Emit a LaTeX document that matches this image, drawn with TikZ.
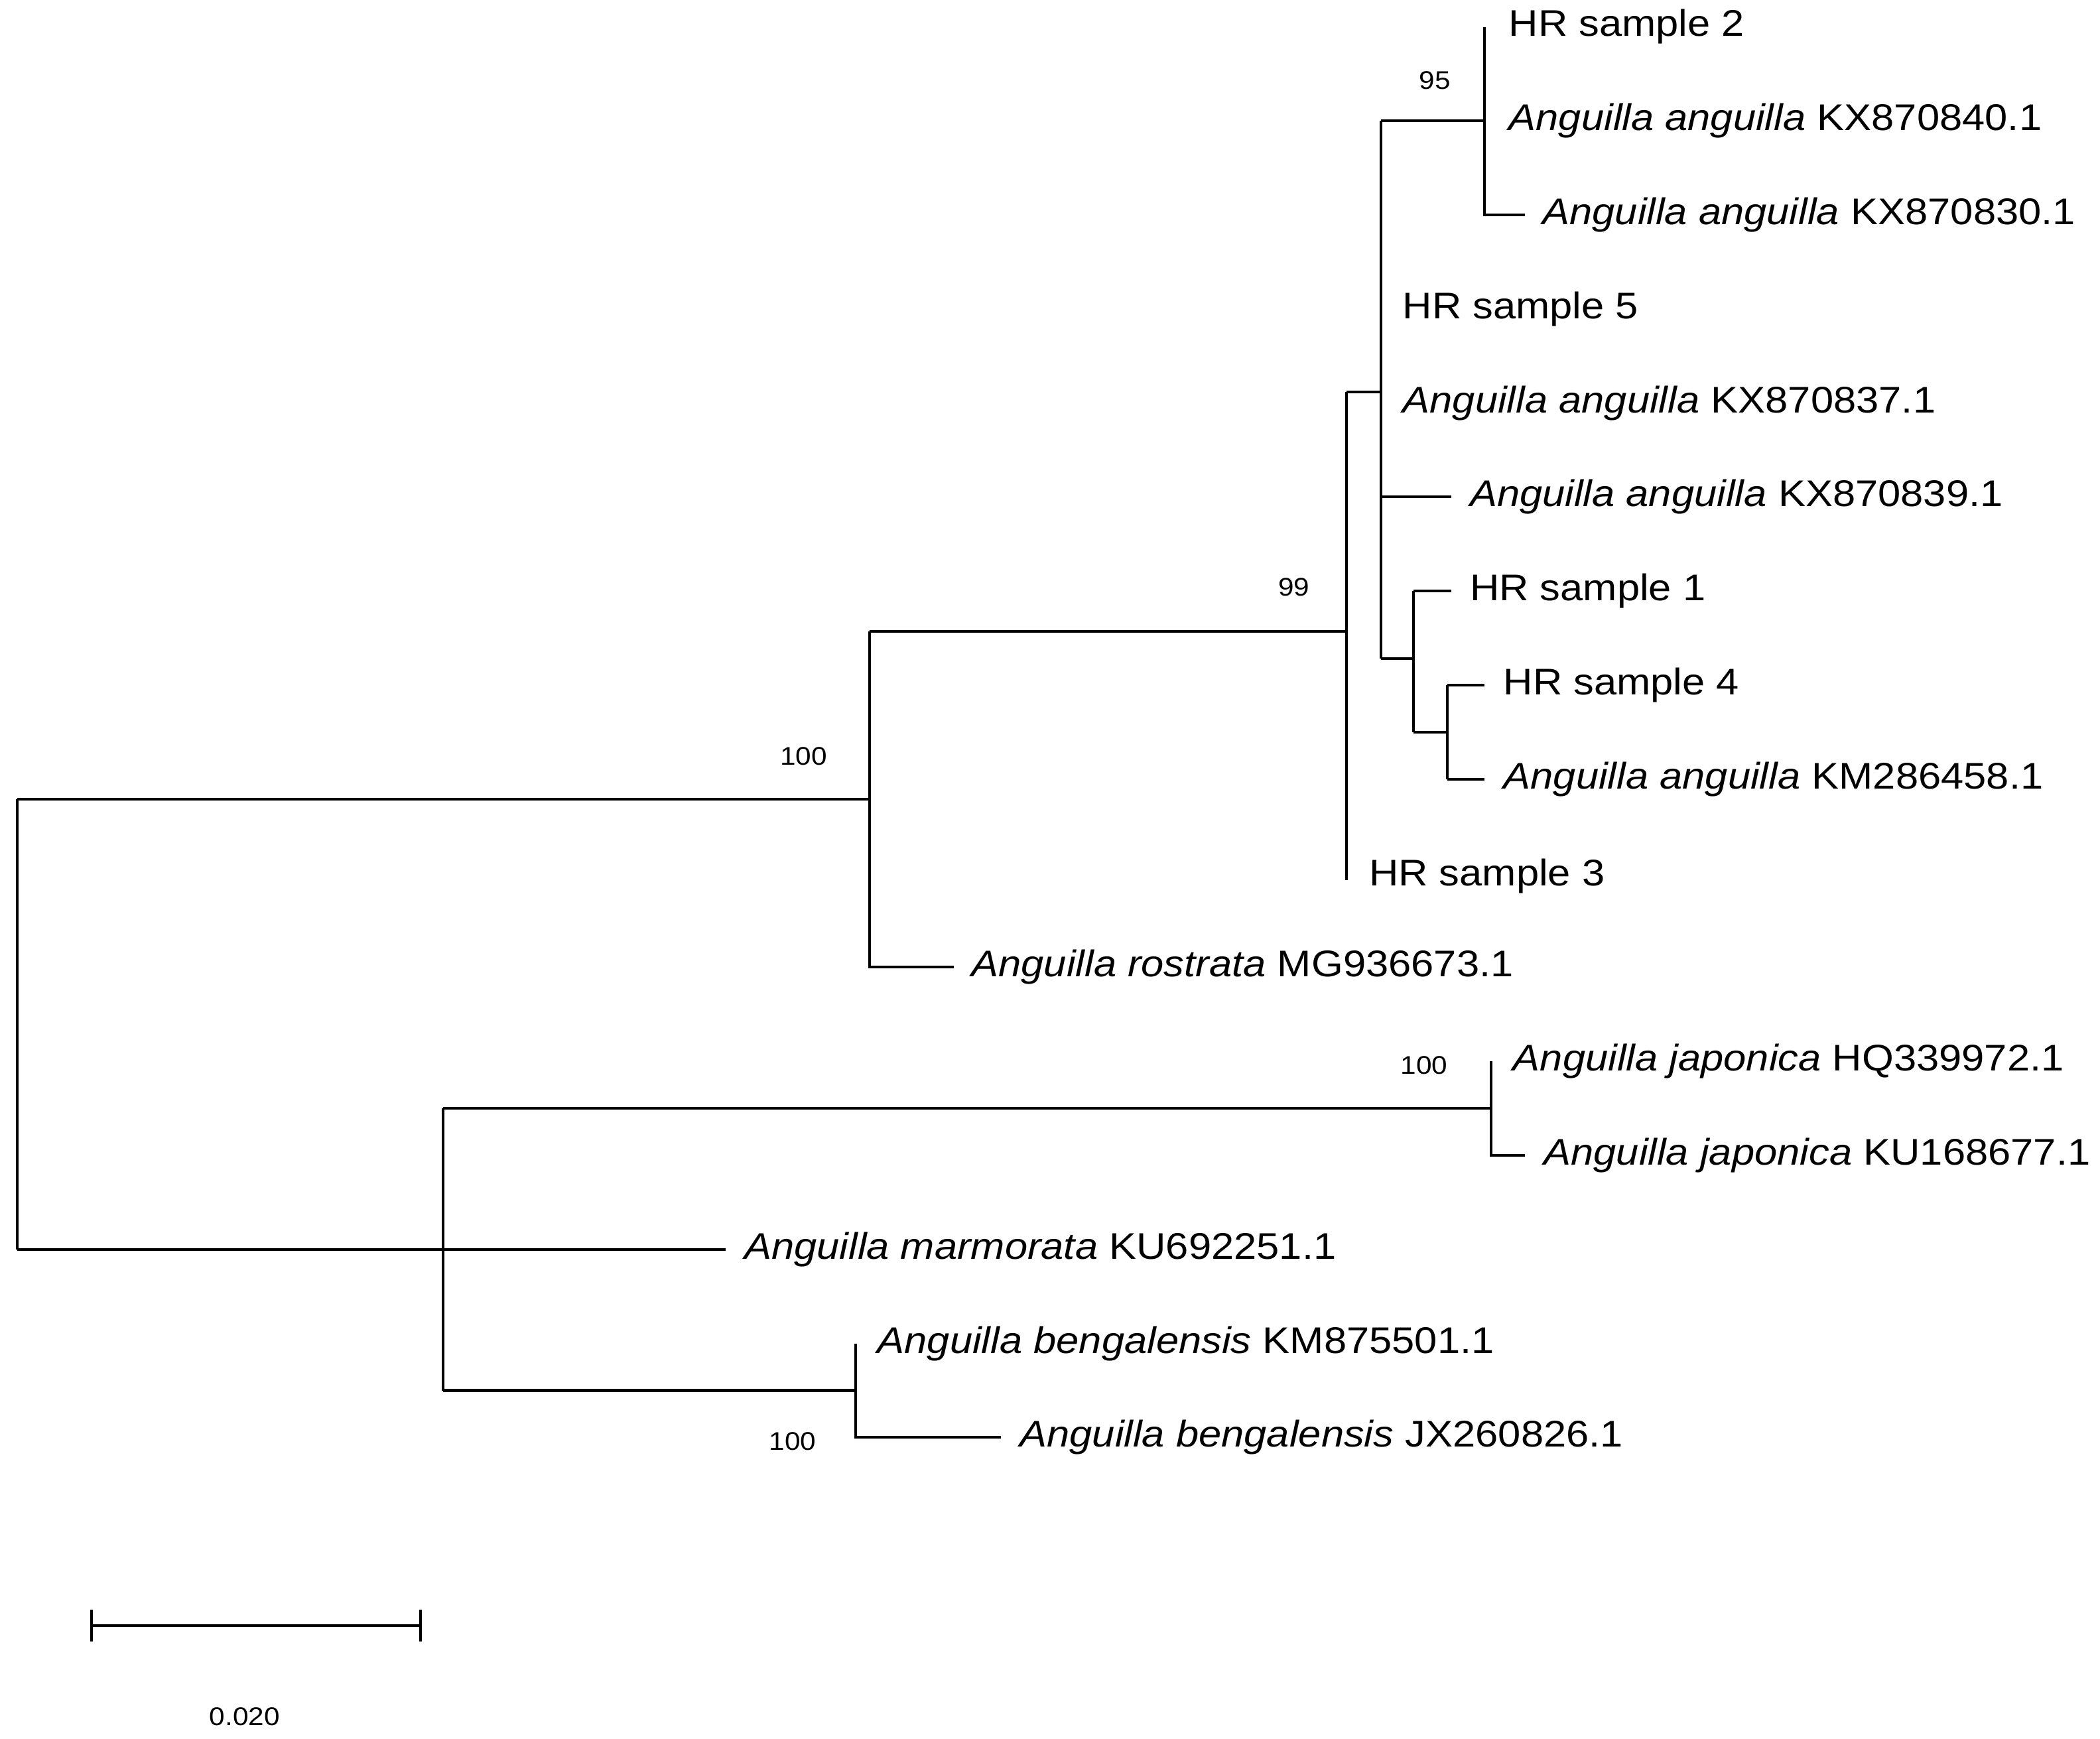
\documentclass[tikz,border=0pt]{standalone}
\usepackage{fontspec}
\setmainfont{Liberation Sans}[FakeStretch=1.1]
\begin{document}
\begin{tikzpicture}[x=0.5pt,y=-0.5pt,line width=1pt,
  lab/.style={anchor=west,inner sep=0pt,font=\fontsize{13.8}{15}\selectfont},
  bs/.style={inner sep=0pt,font=\fontsize{9.5}{10}\selectfont}]
\useasboundingbox (0,0) rectangle (1563,1294);
% leaves
\node[lab] (hr2) at (1122,20) {HR sample 2};
\node[lab] (k840) at (1122,90) {\textit{Anguilla anguilla} KX870840.1};
\node[lab] (k830) at (1147,160) {\textit{Anguilla anguilla} KX870830.1};
\node[lab] (hr5) at (1043,230) {HR sample 5};
\node[lab] (k837) at (1043,300) {\textit{Anguilla anguilla} KX870837.1};
\node[lab] (k839) at (1093,370) {\textit{Anguilla anguilla} KX870839.1};
\node[lab] (hr1) at (1093,440) {HR sample 1};
\node[lab] (hr4) at (1118,510) {HR sample 4};
\node[lab] (km458) at (1118,580) {\textit{Anguilla anguilla} KM286458.1};
\node[lab] (hr3) at (1018,652) {HR sample 3};
\node[lab] (ros) at (722,720) {\textit{Anguilla rostrata} MG936673.1};
\node[lab] (hq) at (1125,790) {\textit{Anguilla japonica} HQ339972.1};
\node[lab] (ku677) at (1148,860) {\textit{Anguilla japonica} KU168677.1};
\node[lab] (mar) at (553,930) {\textit{Anguilla marmorata} KU692251.1};
\node[lab] (km501) at (652,1000) {\textit{Anguilla bengalensis} KM875501.1};
\node[lab] (jx) at (758,1070) {\textit{Anguilla bengalensis} JX260826.1};
% branches
\draw (13,595) -- (13,930);
\draw (13,595) -- (647,595);
\draw (647,470) -- (647,720) -- (710,720);
\draw (647,470) -- (1002,470);
\draw (1002,292) -- (1002,655);
\draw (1002,292) -- (1028,292);
\draw (1028,90) -- (1028,490);
\draw (1028,90) -- (1105,90);
\draw (1105,20) -- (1105,160) -- (1135,160);
\draw (1028,370) -- (1080,370);
\draw (1028,490) -- (1052,490);
\draw (1052,440) -- (1052,545);
\draw (1052,440) -- (1080,440);
\draw (1052,545) -- (1077,545);
\draw (1077,510) -- (1077,580);
\draw (1077,510) -- (1105,510);
\draw (1077,580) -- (1105,580);
\draw (13,930) -- (330,930);
\draw (330,825) -- (330,1035);
\draw (330,825) -- (1110,825);
\draw (1110,790) -- (1110,860) -- (1135,860);
\draw (330,930) -- (540,930);
\draw (330,1035) -- (637,1035);
\draw (637,1000) -- (637,1070) -- (745,1070);
% bootstrap
\node[bs] (b100a) at (598,563) {100};
\node[bs] (b99) at (963,437) {99};
\node[bs] (b95) at (1068,60) {95};
\node[bs] (b100j) at (1060,793) {100};
\node[bs] (b100g) at (590,1073) {100};
% scale bar
\coordinate (s0) at (68,1210);
\coordinate (s1) at (313,1210);
\draw (s0) -- (s1);
\draw (68,1198) -- (68,1222);
\draw (313,1198) -- (313,1222);
\node[bs] (sc) at (182,1278) {0.020};
\end{tikzpicture}
\end{document}
